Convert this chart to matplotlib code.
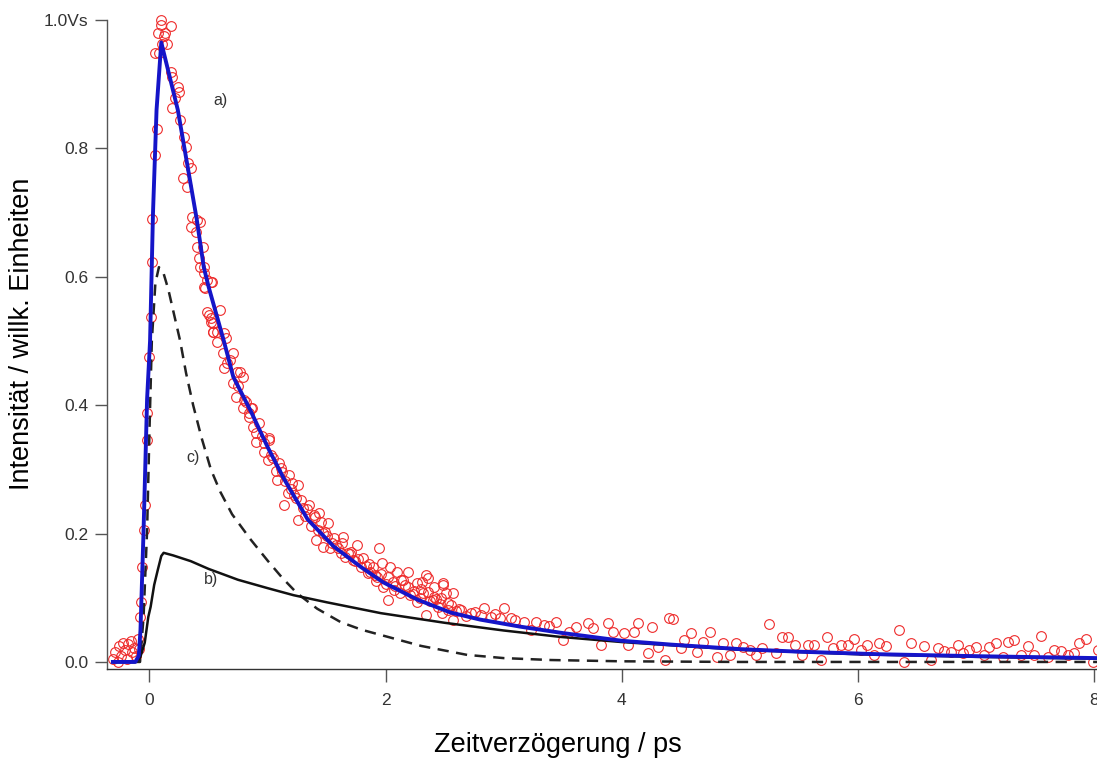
import matplotlib
matplotlib.use("Agg")
import matplotlib.pyplot as plt

plt.rcParams['font.family'] = ['Liberation Sans', 'DejaVu Sans']

# Measured transient (open circles)
meas_t = [
    -0.31, -0.29, -0.27, -0.26, -0.24, -0.22, -0.21, -0.19, -0.18, -0.16, -0.15, -0.13, -0.11, -0.10, -0.09,
    -0.08, -0.07, -0.06, -0.05, -0.04, -0.025, -0.02, 0.0, 0.01, 0.02, 0.025, 0.045, 0.06, 0.05,
    0.095, 0.07, 0.135, 0.18, 0.11, 0.15, 0.08, 0.12, 0.10,
    0.18, 0.19, 0.24, 0.25, 0.22, 0.19, 0.26, 0.29, 0.31, 0.33, 0.35, 0.28, 0.32, 0.36, 0.35, 0.40,
    0.39, 0.40, 0.42, 0.43, 0.46, 0.49, 0.53, 0.46, 0.49, 0.52, 0.54, 0.54, 0.57,
    0.43, 0.45, 0.46, 0.52, 0.47, 0.50, 0.52, 0.54, 0.63, 0.57, 0.62, 0.71, 0.66, 0.63, 0.77, 0.79,
    0.71, 0.73, 0.80, 0.86, 0.79, 0.84, 0.88, 0.90, 1.01, 0.97,
    0.87, 0.90, 1.01, 0.97, 1.00, 1.11, 1.18, 1.08, 1.26, 1.17, 1.22, 1.14, 1.35, 1.26, 1.39, 1.45,
    1.51, 1.41, 1.47, 1.47, 1.56, 1.64, 1.53, 1.60, 1.68, 1.76, 1.94, 1.72, 1.81, 1.79, 1.89, 1.97,
    2.04, 1.85, 1.93, 2.02, 2.10, 2.19, 2.13, 1.98, 2.07, 2.19, 2.27, 2.36, 2.21, 2.32, 2.41, 2.49,
    2.27, 2.40, 2.44, 2.51, 2.53, 2.02,
    0.68, 0.75, 0.82, 0.93, 1.05, 1.10, 1.15, 1.20, 1.24, 1.30, 1.32, 1.37, 1.43, 1.50, 1.55, 1.62,
    1.66, 1.70, 1.74, 1.83, 1.87, 1.91, 1.96, 2.00, 2.06, 2.12, 2.16, 2.24, 2.29, 2.38, 2.46, 2.60,
    0.60, 0.65, 0.74, 0.84, 0.95, 1.03, 1.07, 1.12, 1.21, 1.28, 1.33, 1.40, 1.44, 1.49, 1.58, 1.63,
    1.71, 1.77, 1.86, 1.92, 2.08, 2.15, 2.23, 2.30, 2.43, 2.55, 2.62, 2.68, 2.76, 2.93, 3.10, 3.38,
    2.34, 2.31, 2.36, 2.41, 2.49, 2.47, 2.57, 2.53, 2.34, 2.48, 2.57, 2.64, 2.72, 2.83, 2.81, 2.89,
    3.00, 2.97, 3.06, 3.17, 3.27, 3.34, 3.44, 3.23, 3.50, 3.55, 3.61, 3.71, 3.76, 3.82, 3.88, 3.93,
    4.02, 4.05, 4.10, 4.14, 4.22, 4.31, 4.37, 4.40,
    4.26, 4.43, 4.53, 4.59, 4.50, 4.64, 4.69, 4.75, 4.81, 4.86, 4.92, 4.97, 5.03, 5.09, 5.14, 5.19,
    5.25, 5.31, 5.36, 5.41, 5.47, 5.53, 5.58, 5.63, 5.69, 5.74, 5.79, 5.86, 5.92, 5.97, 6.03, 6.08,
    6.14, 6.18, 6.24, 6.35, 6.39, 6.45, 6.56, 6.62, 6.68, 6.73, 6.79, 6.85, 6.89, 6.94, 7.00, 7.07,
    7.11, 7.17, 7.23, 7.27, 7.32, 7.38, 7.44, 7.49, 7.55, 7.61, 7.66, 7.72, 7.78, 7.83, 7.87, 7.93,
    7.99, 8.03,
]
meas_i = [
    0.005, 0.015, 0.000, 0.025, 0.010, 0.030, 0.018, 0.005, 0.028, 0.033, 0.015, 0.022, 0.010, 0.035, 0.020,
    0.070, 0.093, 0.148, 0.205, 0.245, 0.388, 0.346, 0.475, 0.537, 0.623, 0.690, 0.790, 0.830, 0.948,
    1.000, 0.980, 0.980, 0.990, 0.963, 0.963, 0.948, 0.975, 0.992,
    0.919, 0.911, 0.896, 0.888, 0.879, 0.863, 0.844, 0.818, 0.802, 0.777, 0.769, 0.754, 0.740, 0.693, 0.678, 0.688,
    0.670, 0.646, 0.629, 0.615, 0.606, 0.595, 0.592, 0.584, 0.545, 0.536, 0.528, 0.514, 0.514,
    0.685, 0.646, 0.615, 0.592, 0.583, 0.540, 0.530, 0.514, 0.512, 0.498, 0.481, 0.481, 0.466, 0.458, 0.452, 0.444,
    0.434, 0.413, 0.408, 0.396, 0.396, 0.382, 0.366, 0.343, 0.349, 0.341,
    0.396, 0.357, 0.346, 0.327, 0.315, 0.302, 0.291, 0.283, 0.276, 0.263, 0.260, 0.245, 0.245, 0.221, 0.229, 0.218,
    0.216, 0.190, 0.201, 0.179, 0.193, 0.195, 0.178, 0.178, 0.170, 0.182, 0.178, 0.159, 0.162, 0.148, 0.148, 0.154,
    0.148, 0.139, 0.132, 0.132, 0.140, 0.140, 0.128, 0.117, 0.112, 0.117, 0.123, 0.131, 0.104, 0.107, 0.117, 0.123,
    0.093, 0.097, 0.086, 0.107, 0.081, 0.097,
    0.470, 0.430, 0.405, 0.372, 0.318, 0.310, 0.282, 0.270, 0.255, 0.240, 0.228, 0.212, 0.205, 0.196, 0.185, 0.170,
    0.163, 0.168, 0.158, 0.150, 0.140, 0.136, 0.137, 0.122, 0.125, 0.108, 0.120, 0.110, 0.100, 0.095, 0.090, 0.079,
    0.548, 0.505, 0.452, 0.388, 0.352, 0.322, 0.298, 0.296, 0.278, 0.252, 0.238, 0.226, 0.232, 0.203, 0.182, 0.186,
    0.172, 0.160, 0.152, 0.126, 0.118, 0.128, 0.106, 0.113, 0.098, 0.088, 0.083, 0.072, 0.078, 0.074, 0.066, 0.056,
    0.136, 0.125, 0.109, 0.101, 0.120, 0.100, 0.107, 0.092, 0.073, 0.076, 0.065, 0.081, 0.076, 0.084, 0.073, 0.070,
    0.084, 0.069, 0.069, 0.062, 0.062, 0.058, 0.062, 0.050, 0.034, 0.047, 0.055, 0.061, 0.053, 0.026, 0.061, 0.047,
    0.045, 0.026, 0.047, 0.061, 0.014, 0.023, 0.003, 0.069,
    0.055, 0.067, 0.034, 0.045, 0.022, 0.016, 0.031, 0.047, 0.008, 0.030, 0.011, 0.030, 0.023, 0.019, 0.011, 0.022,
    0.059, 0.014, 0.039, 0.039, 0.026, 0.011, 0.026, 0.026, 0.003, 0.039, 0.022, 0.026, 0.026, 0.036, 0.019, 0.026,
    0.011, 0.030, 0.025, 0.050, 0.000, 0.030, 0.025, 0.003, 0.022, 0.017, 0.016, 0.026, 0.014, 0.019, 0.023, 0.011,
    0.023, 0.030, 0.008, 0.031, 0.034, 0.011, 0.025, 0.011, 0.040, 0.008, 0.019, 0.017, 0.011, 0.014, 0.030, 0.036,
    0.000, 0.019,
]

# a) total fit
fit_t = [-0.31, -0.12, -0.09, -0.076, -0.05, -0.02, 0.005, 0.03, 0.06, 0.10, 0.24, 0.40, 0.46, 0.50,
         0.63, 0.71, 0.86, 1.00, 1.14, 1.34, 1.56, 1.79, 1.98, 2.27, 2.55, 2.80, 3.14, 3.50, 4.00,
         4.42, 5.00, 5.50, 6.19, 7.00, 8.03]
fit_i = [0.0, 0.0, 0.01, 0.05, 0.205, 0.41, 0.50, 0.70, 0.86, 0.965, 0.86, 0.69, 0.615, 0.585,
         0.50, 0.444, 0.39, 0.335, 0.285, 0.222, 0.18, 0.148, 0.124, 0.097, 0.077, 0.066, 0.055, 0.045, 0.033,
         0.027, 0.020, 0.016, 0.012, 0.009, 0.006]

# b) slow component
slow_t = [-0.31, -0.12, -0.08, -0.04, -0.01, 0.01, 0.04, 0.07, 0.10, 0.12, 0.20, 0.35, 0.50, 0.75,
          1.00, 1.22, 1.50, 1.96, 2.50, 3.00, 3.48, 4.00, 5.00, 6.00, 7.00, 8.03]
slow_i = [0.0, 0.0, 0.006, 0.03, 0.07, 0.086, 0.12, 0.143, 0.165, 0.170, 0.166, 0.157, 0.145, 0.128,
          0.115, 0.104, 0.093, 0.076, 0.061, 0.049, 0.039, 0.031, 0.019, 0.012, 0.008, 0.005]

# c) fast component
fast_t = [-0.31, -0.08, -0.05, -0.02, 0.0, 0.02, 0.05, 0.08, 0.12, 0.16, 0.21, 0.26, 0.31, 0.37,
          0.44, 0.52, 0.60, 0.70, 0.78, 0.86, 1.00, 1.12, 1.25, 1.42, 1.62, 1.80, 1.98, 2.30,
          2.69, 3.00, 3.40, 4.00, 5.00, 8.03]
fast_i = [0.0, 0.0, 0.07, 0.205, 0.36, 0.50, 0.59, 0.615, 0.605, 0.58, 0.54, 0.50, 0.45, 0.40,
          0.35, 0.30, 0.265, 0.23, 0.21, 0.19, 0.158, 0.132, 0.107, 0.083, 0.062, 0.050, 0.041, 0.025,
          0.011, 0.006, 0.003, 0.001, 0.0, 0.0]

y_ticks = [0.0, 0.2, 0.4, 0.6, 0.8, 1.0]
y_tick_labels = ['0.0', '0.2', '0.4', '0.6', '0.8', '1.0Vs']
x_ticks = [0, 2, 4, 6, 8]
x_tick_labels = ['0', '2', '4', '6', '8']

fig = plt.figure(figsize=(10.97, 7.58), dpi=100)
ax = fig.add_axes([0.0975, 0.1174, 0.9025, 0.8562])

ax.plot(meas_t, meas_i, linestyle='none', marker='o', markersize=7.0,
        markerfacecolor='none', markeredgecolor='#ee2b2b', markeredgewidth=0.8,
        clip_on=False, zorder=2)
ax.plot(fast_t, fast_i, color='#222222', linewidth=1.8, linestyle=(0, (4.5, 3)), zorder=3)
ax.plot(slow_t, slow_i, color='#111111', linewidth=1.8, zorder=3)
ax.plot(fit_t, fit_i, color='#1515c8', linewidth=2.8, zorder=4)

ax.text(0.54, 0.875, 'a)', fontsize=11.5, color='#333333', ha='left', va='center')
ax.text(0.31, 0.319, 'c)', fontsize=11.5, color='#333333', ha='left', va='center')
ax.text(0.46, 0.128, 'b)', fontsize=11.5, color='#333333', ha='left', va='center')

ax.set_xlim(-0.36, 8.025)
ax.set_ylim(-0.011, 1.0)

for side in ('top', 'right'):
    ax.spines[side].set_visible(False)
ax.spines['left'].set_color('#555555')
ax.spines['bottom'].set_color('#333333')
ax.spines['left'].set_linewidth(1.0)
ax.spines['bottom'].set_linewidth(1.0)

ax.set_yticks(y_ticks)
ax.set_yticklabels(y_tick_labels)
ax.set_xticks(x_ticks)
ax.set_xticklabels(x_tick_labels)
ax.tick_params(axis='y', direction='out', length=8.5, width=1.0, color='#555555',
               labelsize=12.5, labelcolor='#333333', pad=5)
ax.tick_params(axis='x', direction='out', length=9, width=1.0, color='#555555',
               labelsize=12.5, labelcolor='#333333', pad=8)

fig.text(0.5085, 0.017, 'Zeitverzögerung / ps', fontsize=19.5, ha='center', va='center')
fig.text(0.020, 0.56, 'Intensität / willk. Einheiten', fontsize=19.5, rotation=90,
         ha='center', va='center')

fig.savefig('out.png', dpi=100)
